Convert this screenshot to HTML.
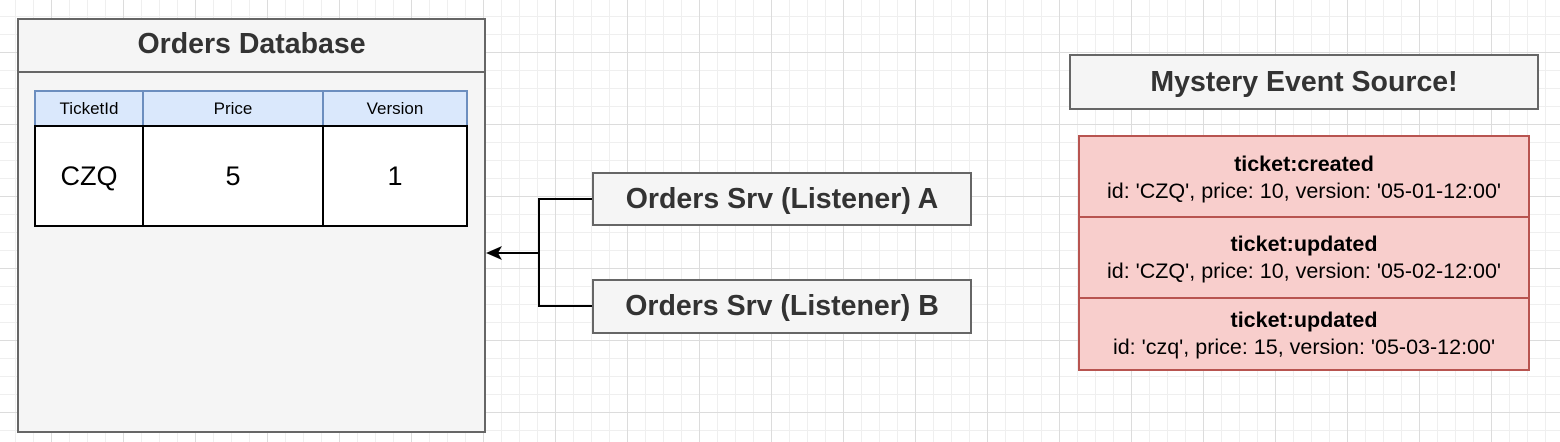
<!DOCTYPE html>
<html><head><style>
body{margin:0;width:1560px;height:442px;overflow:hidden;background:#fff;
background-image:
linear-gradient(#dcdcdc 1px,transparent 1px),linear-gradient(90deg,#dcdcdc 1px,transparent 1px),
linear-gradient(#efefef 1px,transparent 1px),linear-gradient(90deg,#efefef 1px,transparent 1px);
background-size:72px 72px,72px 72px,18px 18px,18px 18px;
background-position:0 52px,51px 0,0 16px,15px 0;
font-family:"Liberation Sans",Arial,sans-serif;position:relative}
.a{position:absolute;box-sizing:border-box}
.c{display:flex;align-items:center;justify-content:center;text-align:center}
.h{font-weight:bold;font-size:28.5px;color:#333}
.e{background:#f8cecc;border:2px solid #b85450;font-size:21.5px;line-height:27px}
</style></head><body>
<div class="a" style="left:17px;top:18px;width:469px;height:415px;background:#f5f5f5;border:2px solid #666"></div>
<div class="a c h" style="left:17px;top:18px;width:469px;height:55px;border-bottom:2px solid #666">Orders Database</div>
<div class="a" style="left:34px;top:90px;width:434px;height:137px;background:#fff;border:2px solid #000"></div>
<div class="a c" style="left:34px;top:90px;width:110px;height:37px;background:#dae8fc;border:2px solid #6c8ebf;font-size:17px">TicketId</div>
<div class="a c" style="left:142px;top:90px;width:182px;height:37px;background:#dae8fc;border:2px solid #6c8ebf;font-size:17px">Price</div>
<div class="a c" style="left:322px;top:90px;width:146px;height:37px;background:#dae8fc;border:2px solid #6c8ebf;font-size:17px">Version</div>
<div class="a c" style="left:34px;top:125px;width:110px;height:102px;border:2px solid #000;font-size:27px">CZQ</div>
<div class="a c" style="left:142px;top:125px;width:182px;height:102px;border:2px solid #000;font-size:27px">5</div>
<div class="a c" style="left:322px;top:125px;width:146px;height:102px;border:2px solid #000;font-size:27px">1</div>

<svg class="a" style="left:0;top:0" width="1560" height="442">
<polyline points="593,199 539,199 539,306 593,306" fill="none" stroke="#000" stroke-width="2"/>
<line x1="539" y1="253" x2="492" y2="253" stroke="#000" stroke-width="2"/>
<path d="M486,253 L502,246 L498,253 L502,260 Z" fill="#000"/>
</svg>
<div class="a c h" style="left:592px;top:172px;width:380px;height:54px;background:#f5f5f5;border:2px solid #666">Orders Srv (Listener) A</div>
<div class="a c h" style="left:592px;top:279px;width:380px;height:55px;background:#f5f5f5;border:2px solid #666">Orders Srv (Listener) B</div>

<div class="a c h" style="left:1069px;top:54px;width:470px;height:56px;background:#f5f5f5;border:2px solid #666">Mystery Event Source!</div>
<div class="a c e" style="left:1078px;top:135px;width:452px;height:83px;padding-top:2px">
<div><b>ticket:created</b><br>id: 'CZQ', price: 10, version: '05-01-12:00'</div></div>
<div class="a c e" style="left:1078px;top:216px;width:452px;height:83px">
<div><b>ticket:updated</b><br>id: 'CZQ', price: 10, version: '05-02-12:00'</div></div>
<div class="a c e" style="left:1078px;top:297px;width:452px;height:74px">
<div><b>ticket:updated</b><br>id: 'czq', price: 15, version: '05-03-12:00'</div></div>
</body></html>
